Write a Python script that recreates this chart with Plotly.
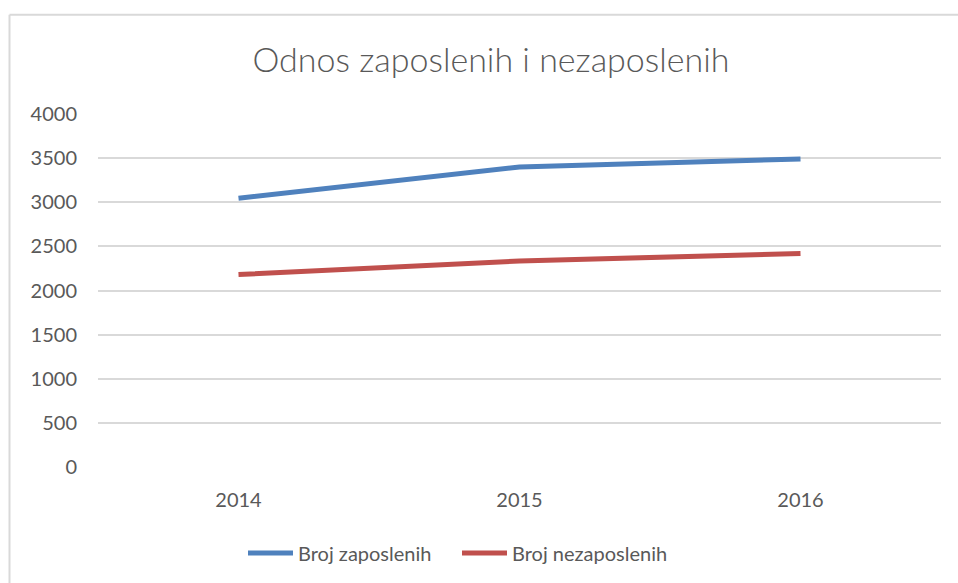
import plotly.graph_objects as go

years = ["2014", "2015", "2016"]
zaposleni = [3045, 3400, 3490]
nezaposleni = [2180, 2335, 2420]
y_ticks = [0, 500, 1000, 1500, 2000, 2500, 3000, 3500, 4000]

W, H = 958, 583
L, R, T, B = 98, 17, 114, 115

FONT = "Lato"
GRAY = "#595959"

fig = go.Figure()
fig.add_trace(go.Scatter(x=years, y=zaposleni, mode="lines", name="Broj zaposlenih",
                         line=dict(color="#4F81BD", width=5)))
fig.add_trace(go.Scatter(x=years, y=nezaposleni, mode="lines", name="Broj nezaposlenih",
                         line=dict(color="#C0504D", width=5)))

pw = W - L - R
ph = H - T - B

def px_x(p):
    return (p - L) / pw

def px_y(p):
    return (H - B - p) / ph

fig.update_layout(
    width=W, height=H,
    margin=dict(l=L, r=R, t=T, b=B, pad=0),
    paper_bgcolor="white", plot_bgcolor="white",
    font=dict(family=FONT, color=GRAY, size=20),
    title=dict(text="Odnos zaposlenih i nezaposlenih", x=491 / W, xanchor="center",
               xref="container", yref="container", y=1 - 60 / H, yanchor="middle",
               font=dict(family=FONT, size=34, color=GRAY, weight=300)),
    xaxis=dict(type="category", range=[-0.5, 2.5], showgrid=False, zeroline=False,
               showline=False, ticks="", ticklabelstandoff=19,
               tickfont=dict(family=FONT, size=20, color=GRAY)),
    yaxis=dict(range=[0, 4000], tickvals=y_ticks, showgrid=True, gridcolor="#D9D9D9",
               gridwidth=1.5, zeroline=False, showline=False, ticks="",
               ticklabelstandoff=20,
               tickfont=dict(family=FONT, size=20, color=GRAY)),
    showlegend=True,
    legend=dict(orientation="h", x=px_x(243), xanchor="left", y=px_y(553), yanchor="middle",
                font=dict(family=FONT, size=20, color=GRAY), bgcolor="rgba(0,0,0,0)",
                itemwidth=45, entrywidth=154, tracegroupgap=0),
    hovermode=False,
)

# chart-area border (left and top visible)
fig.add_shape(type="line", xref="paper", yref="paper", x0=px_x(9.5), x1=px_x(9.5),
              y0=px_y(14.5), y1=px_y(600), line=dict(color="#D9D9D9", width=2))
fig.add_shape(type="line", xref="paper", yref="paper", x0=px_x(9.5), x1=px_x(970),
              y0=px_y(14.5), y1=px_y(14.5), line=dict(color="#D9D9D9", width=2))

fig.write_html("out.html", config={"displayModeBar": False},
               post_script="document.body.style.margin='0';document.body.style.overflow='hidden';")
